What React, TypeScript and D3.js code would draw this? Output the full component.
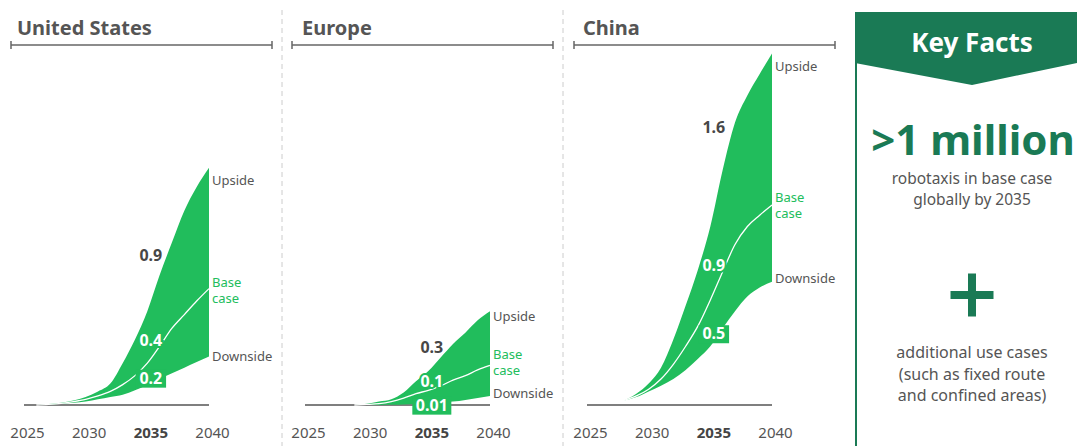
import React from "react";
import * as d3 from "d3";

// ---------- DATA (millions of robotaxis) ----------
const usYears = [2026, 2027, 2028, 2029, 2030, 2031, 2032, 2033, 2034, 2035, 2036, 2037, 2038, 2039, 2040];
const usUpside = [0, 0.008, 0.02, 0.04, 0.07, 0.12, 0.19, 0.37, 0.58, 0.83, 1.15, 1.44, 1.72, 1.93, 2.1];
const usBase = [0, 0.006, 0.015, 0.03, 0.05, 0.08, 0.12, 0.18, 0.26, 0.37, 0.52, 0.68, 0.8, 0.92, 1.03];
const usDownside = [0, 0.004, 0.01, 0.02, 0.03, 0.05, 0.07, 0.09, 0.13, 0.18, 0.23, 0.28, 0.33, 0.38, 0.43];

const euYears = [2029, 2030, 2031, 2032, 2033, 2034, 2035, 2036, 2037, 2038, 2039, 2040];
const euUpside = [0, 0.01, 0.03, 0.05, 0.11, 0.21, 0.3, 0.42, 0.54, 0.64, 0.75, 0.83];
const euBase = [0, 0.005, 0.012, 0.03, 0.06, 0.1, 0.13, 0.17, 0.22, 0.26, 0.31, 0.35];
const euDownside = [0, 0, 0.001, 0.002, 0.005, 0.008, 0.012, 0.02, 0.03, 0.045, 0.062, 0.08];

const cnYears = [2028, 2029, 2030, 2031, 2032, 2033, 2034, 2035, 2036, 2037, 2038, 2039, 2040];
const cnUpside = [0.04, 0.1, 0.19, 0.33, 0.58, 0.88, 1.2, 1.58, 2.08, 2.5, 2.74, 2.93, 3.11];
const cnBase = [0.04, 0.08, 0.14, 0.23, 0.36, 0.52, 0.7, 0.93, 1.18, 1.42, 1.58, 1.68, 1.77];
const cnDownside = [0.04, 0.07, 0.12, 0.17, 0.23, 0.31, 0.41, 0.52, 0.68, 0.83, 0.96, 1.04, 1.09];

const regionNames = ["United States", "Europe", "China"];
const upsideLabels = ["0.9", "0.3", "1.6"];
const baseLabels = ["0.4", "0.1", "0.9"];
const downsideLabels = ["0.2", "0.01", "0.5"];

const tickYears = [2025, 2030, 2035, 2040];
const highlightYear = 2035;

const keyFactsTitle = "Key Facts";
const keyFactBig = ">1 million";
const keyFactLines1 = ["robotaxis in base case", "globally by 2035"];
const keyFactLines2 = ["additional use cases", "(such as fixed route", "and confined areas)"];

// ---------- STYLE ----------
const W = 1077;
const H = 446;
const GREEN = "#21bd5c";
const DARK_GREEN = "#1a7a55";
const TEXT = "#555555";
const FONT = "'Noto Sans', 'Open Sans', sans-serif";

const panelOffsets = [0, 281, 563];
const titleX = [17, 302, 583];
const upLabelDy = [-50, -18, -93];
const baseLabelDy = [-17, -3, -29];
const downLabelDy = [-1, 7, -7];
const rightUpDy = [17, 10, 17];
const rightBaseDy = [-1.5, -6.5, -3];
const rightDownDy = [5, 2, 1];

const regions = [
  { years: usYears, up: usUpside, base: usBase, down: usDownside },
  { years: euYears, up: euUpside, base: euBase, down: euDownside },
  { years: cnYears, up: cnUpside, base: cnBase, down: cnDownside },
];

const y = d3.scaleLinear().domain([0, 1]).range([405, 292]);

function Panel({ i }: { i: number }) {
  const ox = panelOffsets[i];
  const r = regions[i];
  const x = d3.scaleLinear().domain([2025, 2040]).range([ox + 24, ox + 209]);
  const rows = r.years.map((yr, k) => ({ yr, up: r.up[k], base: r.base[k], down: r.down[k] }));
  const area = d3
    .area<any>()
    .x((d) => x(d.yr))
    .y0((d) => y(d.down))
    .y1((d) => y(d.up))
    .curve(d3.curveMonotoneX);
  const line = d3
    .line<any>()
    .x((d) => x(d.yr))
    .y((d) => y(d.base))
    .curve(d3.curveMonotoneX);
  const idx = r.years.indexOf(highlightYear);
  const lx = x(highlightYear) + 3.5;
  const last = rows[rows.length - 1];
  const downTxt = downsideLabels[i];
  const boxW = downTxt.length * 8.5 + 5;
  const downBase = y(r.down[idx]) + downLabelDy[i];
  return (
    <g>
      <text x={titleX[i]} y={35} fontSize={20} fontWeight={700} fill={TEXT}>
        {regionNames[i]}
      </text>
      <g stroke="#666" strokeWidth={1.5}>
        <line x1={ox + 11} x2={ox + 272} y1={45} y2={45} />
        <line x1={ox + 11} x2={ox + 11} y1={41} y2={49} />
        <line x1={ox + 272} x2={ox + 272} y1={41} y2={49} />
      </g>
      <line x1={ox + 24} x2={ox + 209} y1={y(0)} y2={y(0)} stroke="#555" strokeWidth={1.5} />
      <path d={area(rows) || ""} fill={GREEN} />
      <path d={line(rows) || ""} fill="none" stroke="#fff" strokeWidth={1.3} />
      <rect x={lx - boxW / 2} y={downBase - 14} width={boxW} height={18} fill={GREEN} />
      <text x={lx} y={y(r.up[idx]) + upLabelDy[i]} textAnchor="middle" fontSize={16} fontWeight={700} fill="#474747">
        {upsideLabels[i]}
      </text>
      <text
        x={lx}
        y={y(r.base[idx]) + baseLabelDy[i]}
        textAnchor="middle"
        fontSize={16}
        fontWeight={700}
        fill="#fff"
        stroke={GREEN}
        strokeWidth={4}
        style={{ paintOrder: "stroke" }}
      >
        {baseLabels[i]}
      </text>
      <text x={lx} y={downBase} textAnchor="middle" fontSize={16} fontWeight={700} fill="#fff">
        {downTxt}
      </text>
      <text x={x(2040) + 3} y={y(last.up) + rightUpDy[i]} fontSize={13} fill={TEXT}>
        Upside
      </text>
      <text x={x(2040) + 3} y={y(last.base) + rightBaseDy[i]} fontSize={13} fill={GREEN}>
        <tspan x={x(2040) + 3}>Base</tspan>
        <tspan x={x(2040) + 3} dy={16}>case</tspan>
      </text>
      <text x={x(2040) + 3} y={y(last.down) + rightDownDy[i]} fontSize={13} fill={TEXT}>
        Downside
      </text>
      {tickYears.map((t) => (
        <text
          key={t}
          x={x(t) + 3.5}
          y={438}
          textAnchor="middle"
          fontSize={15}
          fontWeight={t === highlightYear ? 700 : 400}
          fill={t === highlightYear ? "#444" : TEXT}
        >
          {t}
        </text>
      ))}
    </g>
  );
}

export default function App() {
  const cx = 972;
  return (
    <svg
      width={W}
      height={H}
      style={{ position: "absolute", left: 0, top: 0, background: "#fff", fontFamily: FONT }}
    >
      <rect width={W} height={H} fill="#fff" />
      {[282, 563].map((sx) => (
        <line key={sx} x1={sx} x2={sx} y1={10} y2={H} stroke="#ccc" strokeWidth={1} strokeDasharray="5,4" />
      ))}
      {[0, 1, 2].map((i) => (
        <Panel key={i} i={i} />
      ))}
      {/* Key facts panel */}
      <line x1={856} x2={856} y1={12} y2={H} stroke={DARK_GREEN} strokeWidth={2} />
      <path d={`M855,12 L${W},12 L${W},63 L${cx},85 L855,63 Z`} fill={DARK_GREEN} />
      <text x={cx} y={52} textAnchor="middle" fontSize={26} fontWeight={700} fill="#fff">
        {keyFactsTitle}
      </text>
      <text x={cx + 1} y={155} textAnchor="middle" fontSize={42} fontWeight={700} fill={DARK_GREEN}>
        {keyFactBig}
      </text>
      {keyFactLines1.map((t, k) => (
        <text key={t} x={cx} y={184 + k * 20.5} textAnchor="middle" fontSize={15.5} fill={TEXT}>
          {t}
        </text>
      ))}
      <rect x={cx - 21.5} y={291} width={43} height={8} fill={DARK_GREEN} />
      <rect x={cx - 4} y={273.5} width={8} height={43} fill={DARK_GREEN} />
      {keyFactLines2.map((t, k) => (
        <text key={t} x={cx} y={358 + k * 21.5} textAnchor="middle" fontSize={16} fill={TEXT}>
          {t}
        </text>
      ))}
    </svg>
  );
}
